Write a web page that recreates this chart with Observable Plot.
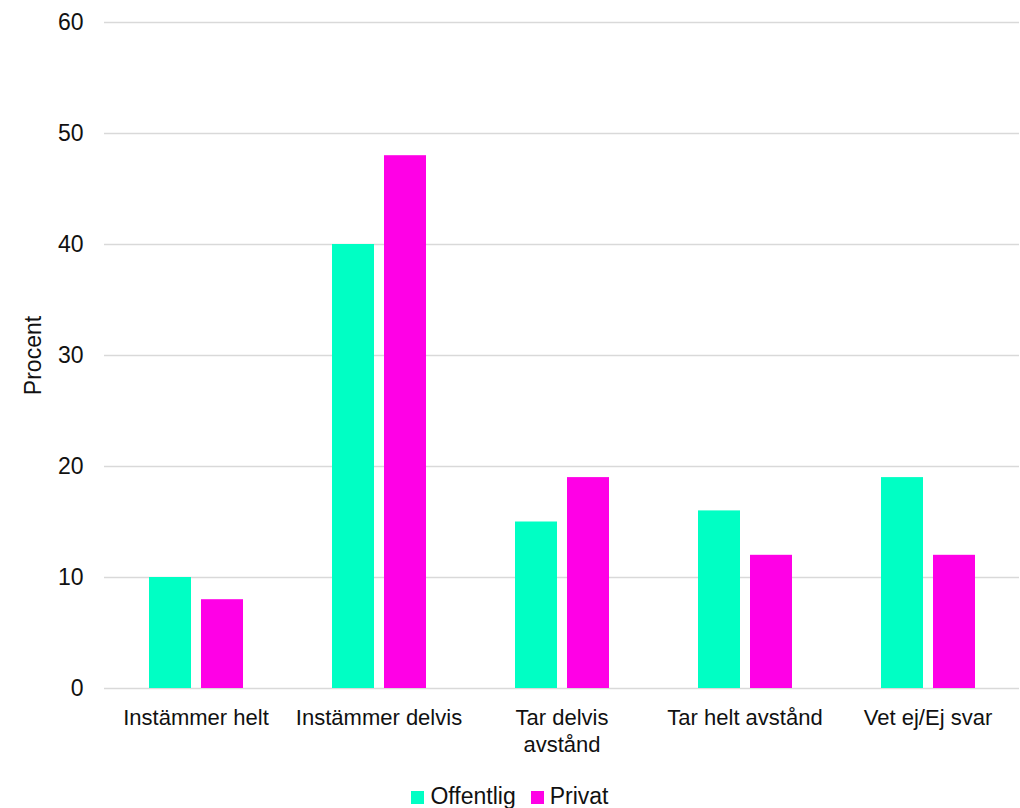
<!DOCTYPE html>
<html><head><meta charset="utf-8">
<script src="https://cdn.jsdelivr.net/npm/d3@7"></script>
<script src="https://cdn.jsdelivr.net/npm/@observablehq/plot@0.6"></script>
<style>
body{margin:0;background:#fff;font-family:"Liberation Sans",Arial,sans-serif;}
#legend{display:flex;justify-content:center;gap:15px;font-size:23px;color:#111;margin-top:23px;line-height:26px;}
#legend span.sw{display:inline-block;width:13px;height:13px;margin-right:6px;vertical-align:0px;}
</style></head>
<body>
<div id="chart"></div>
<div id="legend"></div>
<script>
const categories = ["Instämmer helt","Instämmer delvis","Tar delvis avstånd","Tar helt avstånd","Vet ej/Ej svar"];
const categoryLabels = ["Instämmer helt","Instämmer delvis","Tar delvis\navstånd","Tar helt avstånd","Vet ej/Ej svar"];
const series = ["Offentlig","Privat"];
const offentlig = [10,40,15,16,19];
const privat = [8,48,19,12,12];
const colors = ["#00FFC4","#FF00E6"];
const yTicks = [0,10,20,30,40,50,60];

const data = [];
categories.forEach((c,i)=>{
  data.push({cat:c, ser:series[0], v:offentlig[i]});
  data.push({cat:c, ser:series[1], v:privat[i]});
});
const labelMap = new Map(categories.map((c,i)=>[c,categoryLabels[i]]));

const chart = Plot.plot({
  width:1020, height:760,
  marginLeft:103, marginRight:0, marginTop:22, marginBottom:72,
  style:{fontFamily:"'Liberation Sans',Arial,sans-serif", fontSize:"22px", color:"#111", background:"#fff"},
  fx:{domain:categories, padding:0, label:null},
  x:{domain:series, paddingInner:0.2, paddingOuter:0.85, axis:null},
  y:{domain:[0,60], ticks:yTicks, label:null},
  color:{domain:series, range:colors},
  marks:[
    Plot.gridY(yTicks,{stroke:"#d9d9d9", strokeOpacity:1, strokeWidth:1.5}),
    Plot.axisY(yTicks,{tickSize:0, tickPadding:21, fontSize:23, label:"Procent", labelAnchor:"center", labelOffset:80, labelArrow:"none"}),
    Plot.axisFx({anchor:"bottom", tickSize:0, tickPadding:18, fontSize:22, label:null, tickFormat:d=>labelMap.get(d), lineHeight:1.2}),
    Plot.barY(data,{fx:"cat", x:"ser", y:"v", fill:"ser"}),
  ]
});
document.getElementById("chart").appendChild(chart);
const lg = document.getElementById("legend");
series.forEach((s,i)=>{
  const d=document.createElement("div");
  d.innerHTML=`<span class="sw" style="background:${colors[i]}"></span>${s}`;
  lg.appendChild(d);
});
</script>
</body></html>
